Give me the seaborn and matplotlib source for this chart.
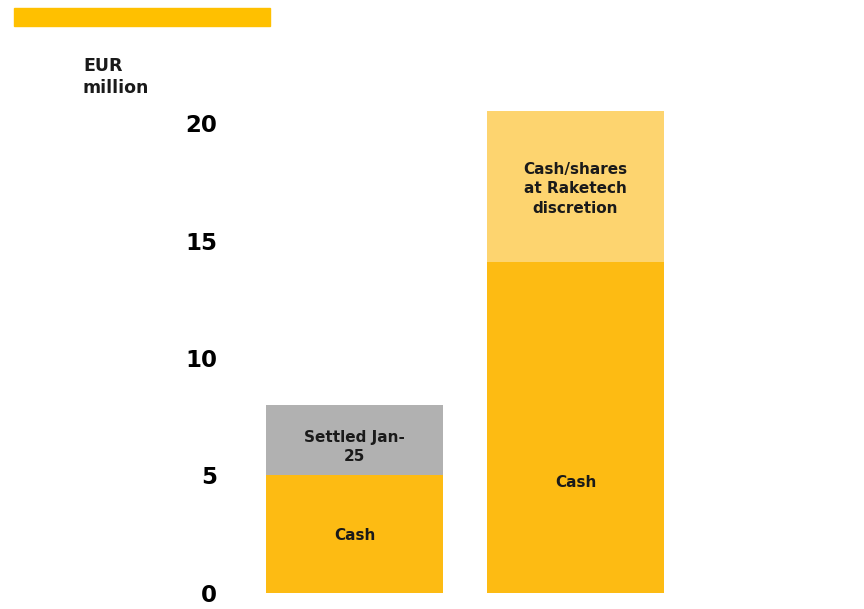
import matplotlib
matplotlib.use("Agg")
import matplotlib.pyplot as plt
import seaborn as sns
from matplotlib.patches import Rectangle

# data (EUR million)
categories = ["A", "B"]
cash = [5.0, 14.1]
other = [3.0, 6.4]
other_labels = ["Settled Jan-\n25", "Cash/shares\nat Raketech\ndiscretion"]
cash_labels = ["Cash", "Cash"]
totals = [c + o for c, o in zip(cash, other)]

cash_col = "#FDBB13"
other_cols = ["#B1B1B1", "#FDD46F"]
ink = "#1A1A1A"

sns.set_theme(style="white")
plt.rcParams["font.family"] = ["DejaVu Sans"]

fig = plt.figure(figsize=(8.64, 6.09), dpi=100)
ax = fig.add_axes([0.2824, 0.0263, 0.5116, 0.8103])

# upper segment drawn as full height, cash drawn over it
sns.barplot(x=categories, y=totals, hue=categories, palette=other_cols,
            width=0.8, legend=False, ax=ax, saturation=1, linewidth=0)
sns.barplot(x=categories, y=cash, color=cash_col, width=0.8, ax=ax,
            saturation=1, linewidth=0)

ax.set_xlim(-0.5, 1.5)
ax.set_ylim(0, 21)
ax.set_yticks([0, 5, 10, 15, 20])
ax.set_yticklabels(["0", "5", "10", "15", "20"], fontsize=16.5, fontweight="bold", color="black")
ax.tick_params(axis="y", length=0, pad=19.5)
ax.set_xticks([])
ax.set_xlabel("")
ax.set_ylabel("")
for s in ax.spines.values():
    s.set_visible(False)

# segment labels (label anchor heights)
cash_y = [2.45, 4.7]
other_y = [6.2, 17.2]
for i in range(len(categories)):
    ax.text(i, cash_y[i], cash_labels[i], ha="center", va="center",
            fontsize=11, fontweight="bold", color=ink)
    ax.text(i, other_y[i], other_labels[i], ha="center", va="center",
            fontsize=11, fontweight="bold", color=ink, linespacing=1.35)

# unit label and decorative bar
fig.text(83 / 864, 1 - 57 / 609, "EUR\nmillion", ha="left", va="top",
         fontsize=12.5, fontweight="bold", color=ink, linespacing=1.3)
fig.patches.append(Rectangle((14 / 864, 1 - 26 / 609), 256 / 864, 18 / 609,
                             transform=fig.transFigure, color="#FFC000", zorder=0))

fig.savefig("out.png", dpi=100)
